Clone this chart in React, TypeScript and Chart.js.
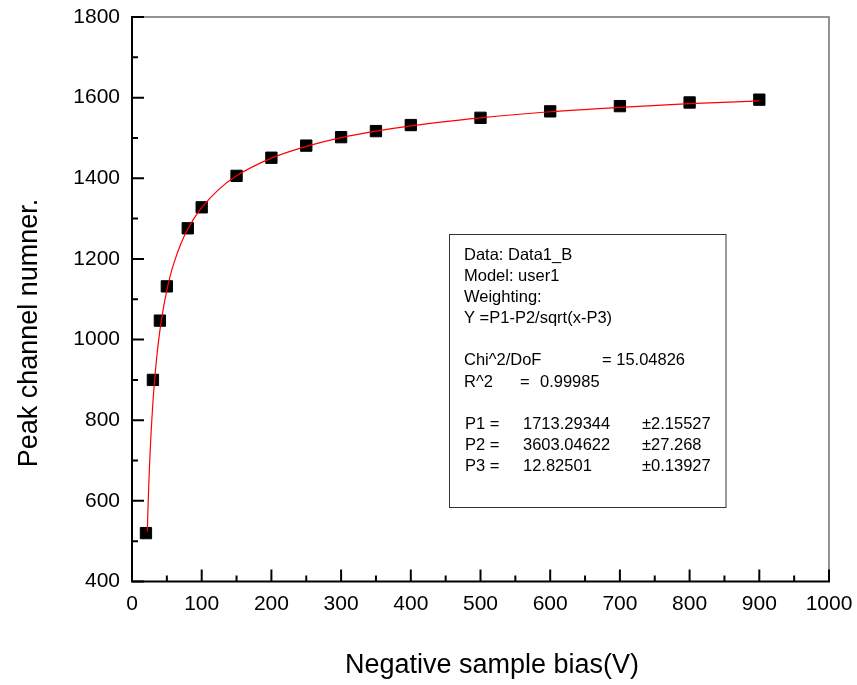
import React, { useEffect, useRef } from "react";
import { Chart, registerables } from "chart.js";

Chart.register(...registerables);

// Measured points (negative sample bias in V, peak channel)
const biasV = [20, 30, 40, 50, 80, 100, 150, 200, 250, 300, 350, 400, 500, 600, 700, 800, 900];
const peakChannel = [520, 900, 1047, 1132, 1276, 1328, 1406, 1451, 1481, 1502, 1517, 1532, 1550, 1566, 1579, 1588, 1595];

// Fitted curve
const fitBias = [22, 22.5, 23, 24, 25, 26, 27, 28, 30, 33, 35, 36, 40, 45, 50, 55, 60, 70, 80, 90, 100, 125, 150, 200, 250, 300, 400, 500, 600, 700, 800, 900];
const fitPeak = [524, 555, 584, 636, 681, 721, 756, 788, 844, 911, 948, 965, 1022, 1078, 1122, 1159, 1189, 1237, 1274, 1303, 1327, 1373, 1406, 1450, 1479, 1501, 1530, 1550, 1565, 1576, 1585, 1592];

const xMin = 0, xMax = 1000, xStep = 100;
const yMin = 400, yMax = 1800, yStep = 200;

const xTitle = "Negative sample bias(V)";
const yTitle = "Peak channel numner.";

// Fit report lines
const fitHeader = ["Data: Data1_B", "Model: user1", "Weighting:", "Y =P1-P2/sqrt(x-P3)"];
const chiLine = ["Chi^2/DoF", "= 15.04826"];
const r2Line = ["R^2", "=", "0.99985"];
const paramNames = ["P1 =", "P2 =", "P3 ="];
const paramValues = ["1713.29344", "3603.04622", "12.82501"];
const paramErrors = ["\u00b12.15527", "\u00b127.268", "\u00b10.13927"];

const FONT = '"Liberation Sans", Arial, Helvetica, sans-serif';

const framePlugin = {
  id: "originFrame",
  afterDraw(chart: any) {
    const ctx = chart.ctx;
    const { left, right, top, bottom } = chart.chartArea;
    const xs = chart.scales.x;
    const ys = chart.scales.y;
    ctx.save();
    // top and right frame (grey)
    ctx.strokeStyle = "#707070";
    ctx.lineWidth = 1.5;
    ctx.beginPath();
    ctx.moveTo(left, top);
    ctx.lineTo(right, top);
    ctx.lineTo(right, bottom);
    ctx.stroke();
    // left and bottom axes (black)
    ctx.strokeStyle = "#000";
    ctx.lineWidth = 2;
    ctx.beginPath();
    ctx.moveTo(left, top - 1);
    ctx.lineTo(left, bottom);
    ctx.lineTo(right + 1, bottom);
    ctx.stroke();
    // inward ticks
    const xt = xs.ticks.map((t: any) => t.value);
    const yt = ys.ticks.map((t: any) => t.value);
    ctx.beginPath();
    xt.forEach((v: number, i: number) => {
      const p = xs.getPixelForValue(v);
      ctx.moveTo(p, bottom);
      ctx.lineTo(p, bottom - 12);
      if (i < xt.length - 1) {
        const m = xs.getPixelForValue((v + xt[i + 1]) / 2);
        ctx.moveTo(m, bottom);
        ctx.lineTo(m, bottom - 6);
      }
    });
    yt.forEach((v: number, i: number) => {
      const p = ys.getPixelForValue(v);
      ctx.moveTo(left, p);
      ctx.lineTo(left + 12, p);
      if (i < yt.length - 1) {
        const m = ys.getPixelForValue((v + yt[i + 1]) / 2);
        ctx.moveTo(left, m);
        ctx.lineTo(left + 6, m);
      }
    });
    ctx.stroke();

    // axis titles
    ctx.fillStyle = "#000";
    ctx.font = `27px ${FONT}`;
    ctx.textAlign = "center";
    ctx.textBaseline = "alphabetic";
    ctx.fillText(xTitle, 492, 673);
    ctx.save();
    ctx.translate(37, 333);
    ctx.rotate(-Math.PI / 2);
    ctx.fillText(yTitle, 0, 0);
    ctx.restore();

    // fit report box
    const bx = 449.5, by = 234.5, bw = 276.5, bh = 273;
    ctx.fillStyle = "#fff";
    ctx.fillRect(bx, by, bw, bh);
    ctx.strokeStyle = "#333";
    ctx.lineWidth = 1;
    ctx.strokeRect(bx, by, bw, bh);
    ctx.fillStyle = "#000";
    ctx.font = `16.5px ${FONT}`;
    ctx.textAlign = "left";
    const base = 259.5, lh = 21.17, c0 = 464;
    fitHeader.forEach((t, i) => ctx.fillText(t, c0, base + lh * i));
    ctx.fillText(chiLine[0], c0, base + lh * 5);
    ctx.fillText(chiLine[1], 602, base + lh * 5);
    ctx.fillText(r2Line[0], c0, base + lh * 6);
    ctx.fillText(r2Line[1], 520, base + lh * 6);
    ctx.fillText(r2Line[2], 540, base + lh * 6);
    paramNames.forEach((n, i) => {
      const yy = base + lh * (8 + i);
      ctx.fillText(n, c0 + 1, yy);
      ctx.fillText(paramValues[i], 523, yy);
      ctx.fillText(paramErrors[i], 642, yy);
    });
    ctx.restore();
  },
};

export default function App() {
  const ref = useRef<HTMLCanvasElement | null>(null);
  useEffect(() => {
    if (!ref.current) return;
    const chart = new Chart(ref.current, {
      type: "scatter",
      data: {
        datasets: [
          {
            label: "fit",
            data: fitBias.map((x, i) => ({ x, y: fitPeak[i] })),
            showLine: true,
            borderColor: "#ff0000",
            borderWidth: 1.2,
            pointRadius: 0,
            cubicInterpolationMode: "monotone",
            fill: false,
          },
          {
            label: "Data1_B",
            data: biasV.map((x, i) => ({ x, y: peakChannel[i] })),
            showLine: false,
            pointStyle: "rect",
            pointRadius: 8,
            backgroundColor: "#000",
            borderColor: "#000",
            borderWidth: 1,
          },
        ],
      },
      options: {
        responsive: false,
        animation: false,
        devicePixelRatio: 1,
        layout: { padding: { left: 0, top: 17, right: 28, bottom: 0 } },
        plugins: { legend: { display: false }, tooltip: { enabled: false } },
        scales: {
          x: {
            type: "linear",
            min: xMin,
            max: xMax,
            grid: { display: false, drawTicks: false },
            border: { display: false },
            ticks: {
              stepSize: xStep,
              padding: 10,
              color: "#000",
              font: { size: 21, family: FONT },
              maxRotation: 0,
              callback: (v: any) => String(v),
            },
            afterFit: (s: any) => {
              s.height = 103.5;
              s.paddingLeft = 0;
              s.paddingRight = 0;
            },
          },
          y: {
            type: "linear",
            min: yMin,
            max: yMax,
            grid: { display: false, drawTicks: false },
            border: { display: false },
            ticks: {
              stepSize: yStep,
              padding: 12,
              color: "#000",
              font: { size: 21, family: FONT },
              callback: (v: any) => String(v),
            },
            afterFit: (s: any) => {
              s.width = 132;
              s.paddingTop = 0;
              s.paddingBottom = 0;
            },
          },
        },
      },
      plugins: [framePlugin],
    });
    return () => chart.destroy();
  }, []);
  return (
    <div style={{ position: "absolute", left: 0, top: 0, width: 857, height: 685, background: "#fff" }}>
      <canvas ref={ref} width={857} height={685} style={{ display: "block", width: 857, height: 685 }} />
    </div>
  );
}
